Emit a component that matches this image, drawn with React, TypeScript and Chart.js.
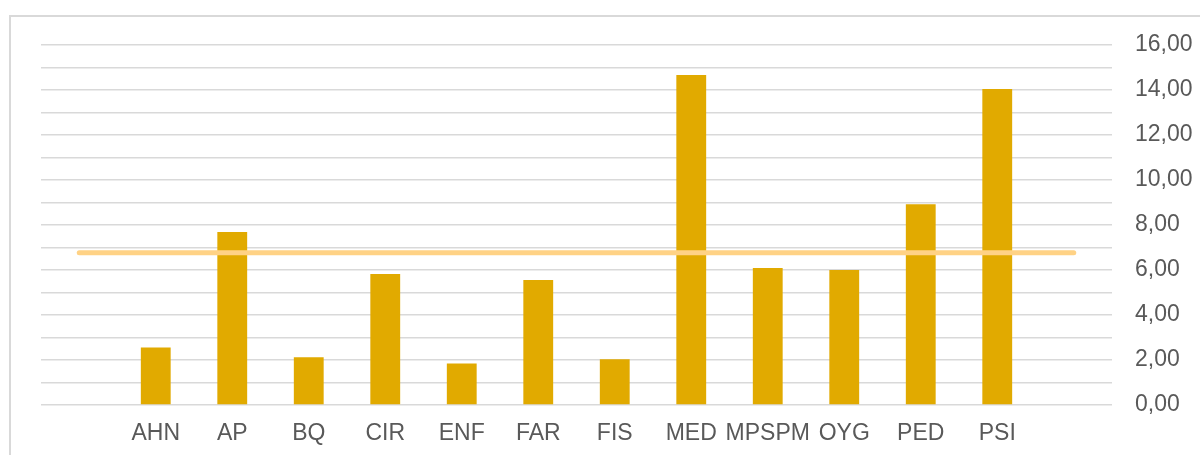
import React, { useEffect, useRef } from "react";
import { Chart, registerables } from "chart.js";

Chart.register(...registerables);

const categories: string[] = ["", "AHN", "AP", "BQ", "CIR", "ENF", "FAR", "FIS", "MED", "MPSPM", "OYG", "PED", "PSI", ""];
const barValues: (number | null)[] = [null, 2.56, 7.69, 2.12, 5.82, 1.84, 5.56, 2.03, 14.67, 6.09, 6.0, 8.92, 14.04, null];
const averageValues: number[] = [6.77, 6.77, 6.77, 6.77, 6.77, 6.77, 6.77, 6.77, 6.77, 6.77, 6.77, 6.77, 6.77, 6.77];
const yMin = 0;
const yMax = 16;

const FONT = "'Liberation Sans', Arial, sans-serif";
const TEXT = "#595959";
const GRID = "#d9d9d9";

export default function App() {
  const ref = useRef<HTMLCanvasElement | null>(null);

  useEffect(() => {
    if (!ref.current) return;
    const chart = new Chart(ref.current, {
      type: "bar",
      data: {
        labels: categories,
        datasets: [
          {
            type: "line",
            data: averageValues,
            borderColor: "#FFD285",
            borderWidth: 5,
            borderCapStyle: "round",
            pointRadius: 0,
            fill: false,
            order: 0,
          } as any,
          {
            type: "bar",
            data: barValues,
            backgroundColor: "#E1AA00",
            borderWidth: 0,
            barPercentage: 0.39,
            categoryPercentage: 1,
            order: 1,
          } as any,
        ],
      },
      options: {
        animation: false,
        responsive: false,
        maintainAspectRatio: false,
        layout: { padding: { left: 41, top: 45, right: 0, bottom: 0 } },
        plugins: { legend: { display: false }, tooltip: { enabled: false } },
        scales: {
          x: {
            grid: { display: false, drawTicks: false },
            border: { display: false },
            ticks: {
              font: { family: FONT, size: 23 },
              color: TEXT,
              padding: 15,
              autoSkip: false,
              maxRotation: 0,
            },
            afterFit: (s: any) => {
              s.height = 50;
            },
          },
          y: {
            position: "right",
            min: yMin,
            max: yMax,
            grid: { color: GRID, lineWidth: 1.5, drawTicks: false },
            border: { display: false },
            ticks: {
              stepSize: 1,
              autoSkip: false,
              padding: 23,
              font: { family: FONT, size: 23 },
              color: TEXT,
              callback: (v: any) => (Number(v) % 2 === 0 ? Number(v).toFixed(2).replace(".", ",") : ""),
            },
            afterFit: (s: any) => {
              s.width = 88;
            },
          },
        },
      },
    });
    return () => chart.destroy();
  }, []);

  return (
    <div style={{ position: "fixed", left: 0, top: 0, width: 1200, height: 455, overflow: "hidden", background: "#fff" }}>
      <div
        style={{
          position: "absolute",
          left: 9,
          top: 15,
          width: 1300,
          height: 600,
          border: "2px solid #d9d9d9",
          boxSizing: "border-box",
        }}
      />
      <canvas ref={ref} width={1200} height={455} style={{ position: "absolute", left: 0, top: 0, width: 1200, height: 455 }} />
    </div>
  );
}
